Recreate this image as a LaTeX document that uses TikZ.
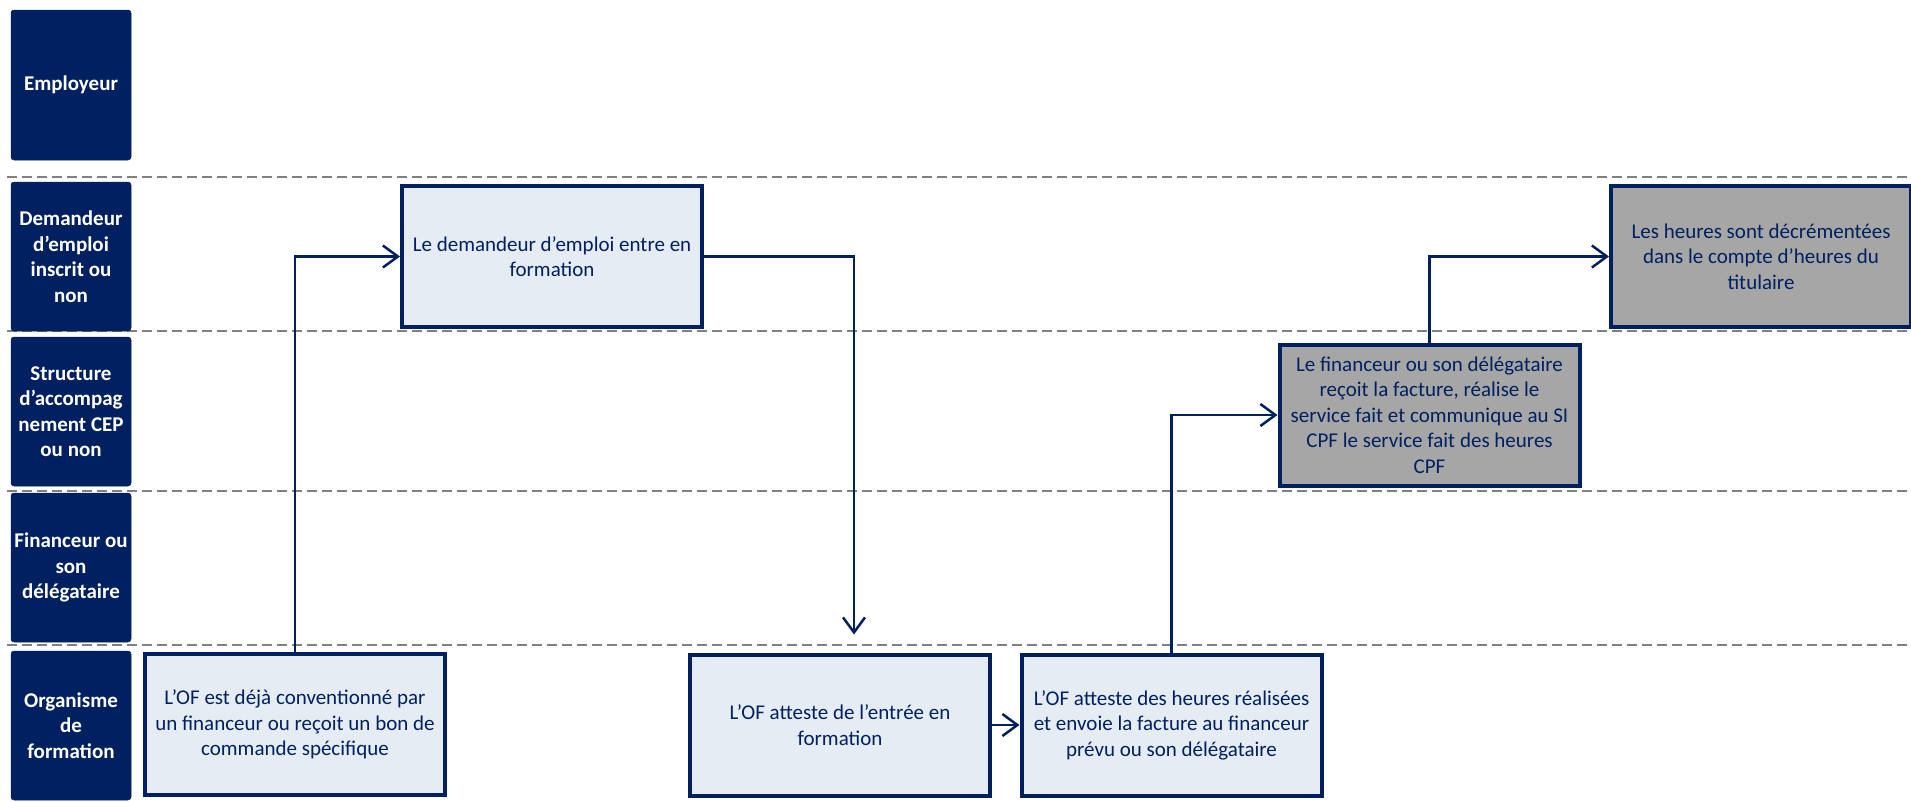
\documentclass[tikz,border=0pt]{standalone}
\usepackage{fontspec}
\setmainfont{Carlito}
\usetikzlibrary{arrows.meta}
\definecolor{navy}{RGB}{0,32,96}
\definecolor{boxfill}{RGB}{230,236,244}
\definecolor{boxgray}{RGB}{166,166,166}
\definecolor{dashgray}{RGB}{128,128,128}
\begin{document}
\begin{tikzpicture}[x=1pt,y=-1pt,
  lane/.style={fill=navy, draw=navy, line width=0.5pt, rounded corners=3pt,
    minimum width=120pt, text=white, align=center, inner sep=0pt,
    font=\fontsize{21}{25.5}\selectfont\bfseries},
  proc/.style={draw=navy, line width=4pt, fill=boxfill, minimum width=300pt,
    minimum height=141pt, text=navy, align=center, inner sep=0pt,
    font=\fontsize{21}{25.5}\selectfont},
  procgray/.style={proc, fill=boxgray},
  dashline/.style={draw=dashgray, line width=2pt, dash pattern=on 10pt off 5pt},
  conn/.style={draw=navy, line width=2.5pt, -{Straight Barb[length=15pt,width=22pt]}}
]
\useasboundingbox (0,0) rectangle (1911,801);
\clip (0,0) rectangle (1911,801);
% swimlane separators
\draw[dashline] (7,177) -- (1911,177);
\draw[dashline] (7,331) -- (1911,331);
\draw[dashline] (7,491) -- (1911,491);
\draw[dashline] (7,645) -- (1911,645);
% lane headers
\node[lane, minimum height=150pt] (L1) at (71,85) {Employeur};
\node[lane, minimum height=149pt] (L2) at (71,256.5) {Demandeur\\d’emploi\\inscrit ou\\non};
\node[lane, minimum height=149pt] (L3) at (71,411.5) {Structure\\d’accompag\\nement CEP\\ou non};
\node[lane, minimum height=149pt] (L4) at (71,567.5) {Financeur ou\\son\\délégataire};
\node[lane, minimum height=149pt] (L5) at (71,725.5) {Organisme\\de\\formation};
% process boxes
\node[proc] (A) at (295,724.5) {L’OF est déjà conventionné par\\un financeur ou reçoit un bon de\\commande spécifique};
\node[proc] (B) at (552,256.5) {Le demandeur d’emploi entre en\\formation};
\node[proc] (C) at (840,725) {L’OF atteste de l’entrée en\\formation};
\node[proc] (D) at (1171.5,725) {L’OF atteste des heures réalisées\\et envoie la facture au financeur\\prévu ou son délégataire};
\node[procgray] (E) at (1429.5,415) {Le financeur ou son délégataire\\reçoit la facture, réalise le\\service fait et communique au SI\\CPF le service fait des heures\\CPF};
\node[procgray] (F) at (1761,256.5) {Les heures sont décrémentées\\dans le compte d’heures du\\titulaire};
% connectors
\draw[conn] (A.north) |- (B.west);
\draw[conn, shorten >=18pt] (B.east) -| ([xshift=14pt]C.north);
\draw[conn] (C.east) -- (D.west);
\draw[conn] (D.north) |- (E.west);
\draw[conn] (E.north) |- (F.west);
\end{tikzpicture}
\end{document}
